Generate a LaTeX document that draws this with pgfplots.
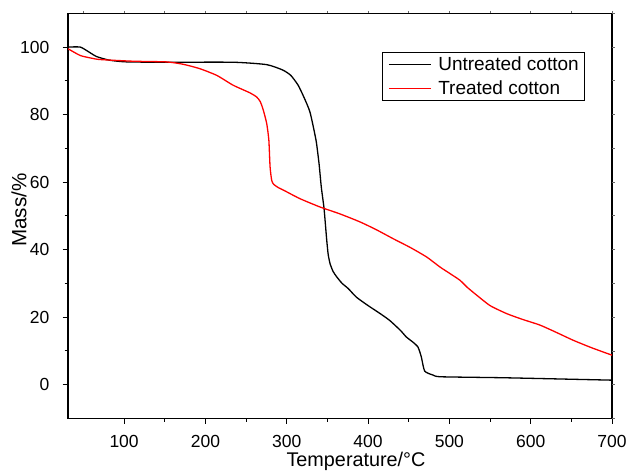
\documentclass[border=0pt]{standalone}
\usepackage{fontspec}
\setmainfont{Liberation Sans}
\usepackage{pgfplots}
\pgfplotsset{compat=1.18}
\begin{document}
\begin{tikzpicture}
\begin{axis}[
  name=ax, scale only axis, width=544bp, height=405bp,
  xmin=31, xmax=700, ymin=-10, ymax=110,
  xtick={100,200,...,700}, ytick={0,20,...,100},
  minor x tick num=1, minor y tick num=1,
  tick align=outside, tick pos=left,
  major tick length=5.5bp, minor tick length=3.5bp,
  axis line style={line width=1.2bp},
  every tick/.style={black, line width=1bp},
  every minor tick/.style={black, line width=1bp},
  tick label style={font=\fontsize{17.5bp}{20bp}\selectfont, inner sep=0pt},
  /pgf/number format/assume math mode=true,
  xticklabel shift=11.7bp, yticklabel shift=13bp,
  xlabel={Temperature/\textdegree C},
  ylabel={Mass/\%},
  xlabel style={font=\fontsize{19.8bp}{23bp}\selectfont, inner sep=0pt, anchor=north, at={(axis description cs:0.5294,-0.0832)}},
  ylabel style={font=\fontsize{20.6bp}{24bp}\selectfont, inner sep=0pt, anchor=south, at={(axis description cs:-0.0759,0.514)}},
  legend cell align=left,
  legend style={at={(axis description cs:0.577,0.905)}, anchor=north west, draw=black, line width=0.8bp,
    font=\fontsize{19bp}{23bp}\selectfont, inner xsep=6bp, inner ysep=4.5bp, row sep=9bp,
    nodes={inner sep=0pt},
    /tikz/every odd column/.append style={column sep=6.7bp}},
  legend image code/.code={\draw[#1] (0bp,0bp) -- (42bp,0bp);},
]
\addplot[black, line width=1.3bp, smooth, tension=0.35] coordinates {
(31,100) (46,100) (55,98.8) (66,97.2) (82,96.1) (103,95.6) (150,95.5) (234,95.5)
(275,94.8) (295,93.2) (305,91.6) (314,88.7) (321,85.2) (328.6,80.7) (336,72.4)
(339.7,65.5) (342.5,58.5) (345.9,52.1) (349.2,42.7) (351,38.5) (353.3,35.8) (357,33.5)
(361.5,31.9) (368,30) (375.8,28.4) (385.6,25.9) (400,23.4) (415,21) (426.6,19.0)
(440,16) (447,14.1) (455,12.6) (461.4,11.1) (465.5,8.2) (469.6,4.0) (480,2.8)
(490,2.3) (570,2.0) (700,1.3)
};
\addlegendentry{Untreated cotton}
\addplot[red, line width=1.3bp, smooth, tension=0.35] coordinates {
(31,99.5) (46,97.5) (60,96.7) (70.4,96.3) (111,95.8) (152,95.6) (172.5,94.9)
(193,93.6) (214,91.6) (234,88.7) (255,86.4) (263,85.2) (267.5,83.8) (271.3,81.2)
(275.4,77.3) (278,72.4) (279.5,64.5) (281.5,60.5) (284,59.3) (290,58.3) (296,57.6)
(316,55.1) (341,52.6) (365,50.6) (390,48.2) (410,45.9) (431,43.2) (452,40.6) (472,37.8)
(488.6,34.8) (500,33) (513,30.9) (522,28.8) (533,26.6) (550,23.4) (570.6,21.0)
(590,19.3) (611.6,17.6) (632,15.4) (652.5,13.1) (675,10.9) (700,8.7)
};
\addlegendentry{Treated cotton}
\end{axis}
\begin{axis}[
  scale only axis, width=544bp, height=405bp, at={(ax.south west)}, anchor=south west,
  xmin=31, xmax=700, ymin=-10, ymax=110,
  xtick={50,100,...,700}, ytick={-10,0,...,110},
  xtick pos=right, ytick pos=right, tick align=outside,
  major tick length=2.5bp,
  xticklabels={}, yticklabels={},
  axis line style={draw=none},
  every tick/.style={black!60, line width=0.6bp},
]
\end{axis}
\pgfresetboundingbox
\path ([shift={(-68bp,-52.7bp)}]ax.south west) rectangle ([shift={(18bp,13.3bp)}]ax.north east);
\end{tikzpicture}
\end{document}
